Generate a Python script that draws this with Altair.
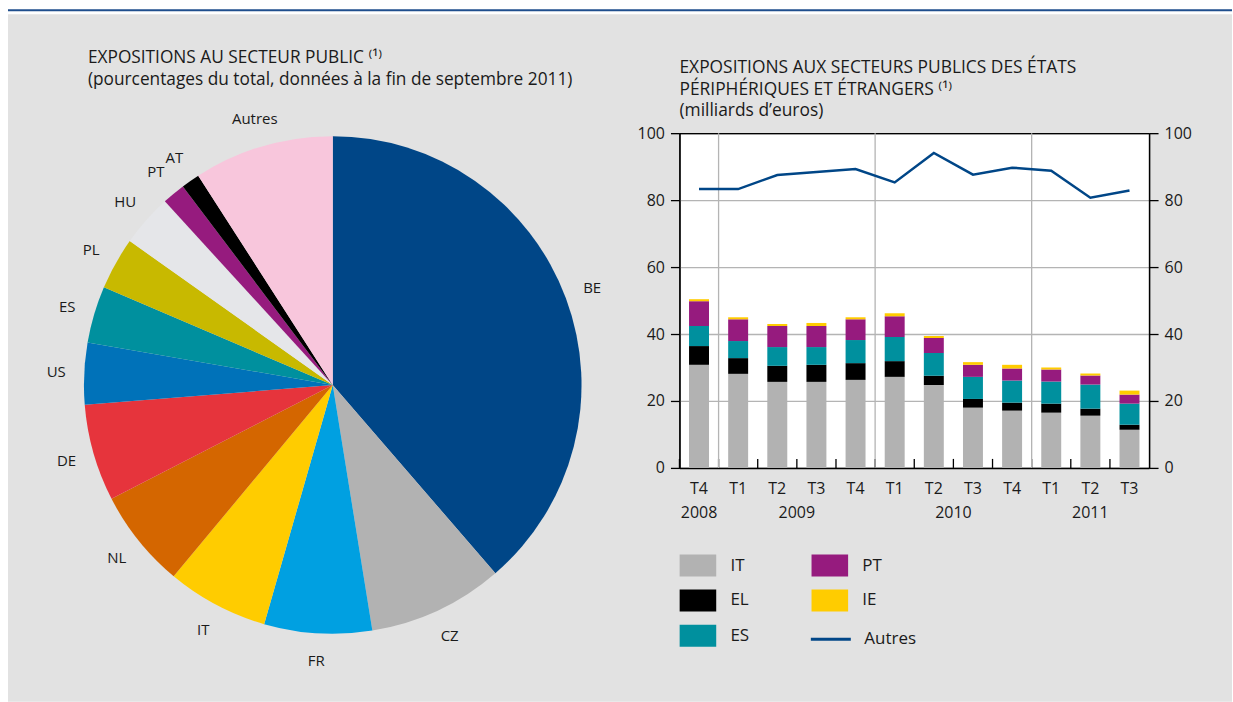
import altair as alt
import pandas as pd

# ---------------- data ----------------
pie_countries = ["BE", "CZ", "FR", "IT", "NL", "DE", "US", "ES", "PL", "HU", "PT", "AT", "Autres"]
pie_shares = [38.7, 8.8, 7.0, 6.6, 6.4, 6.3, 4.0, 3.7, 3.4, 3.4, 1.5, 1.2, 9.1]

quarters = ["T4", "T1", "T2", "T3", "T4", "T1", "T2", "T3", "T4", "T1", "T2", "T3"]
years = ["2008", "2009", "2009", "2009", "2009", "2010", "2010", "2010", "2010", "2011", "2011", "2011"]
it_vals = [30.8, 28.1, 25.7, 25.7, 26.3, 27.2, 24.8, 18.0, 17.1, 16.5, 15.6, 11.4]
el_vals = [5.6, 4.7, 4.8, 5.1, 5.0, 4.7, 2.7, 2.6, 2.4, 2.7, 2.1, 1.5]
es_vals = [6.0, 5.1, 5.6, 5.3, 6.9, 7.2, 6.8, 6.6, 6.6, 6.6, 7.2, 6.3]
pt_vals = [7.4, 6.5, 6.3, 6.3, 6.2, 6.2, 4.5, 3.6, 3.6, 3.6, 2.7, 2.7]
ie_vals = [0.6, 0.6, 0.6, 0.9, 0.6, 0.9, 0.6, 0.8, 1.1, 0.6, 0.6, 1.2]
autres_vals = [83.3, 83.3, 87.5, 88.4, 89.3, 85.3, 94.1, 87.6, 89.7, 88.8, 80.7, 82.9]

bar_series = ["IT", "EL", "ES", "PT", "IE"]
line_series = "Autres"

left_title = "EXPOSITIONS AU SECTEUR PUBLIC \u207d\u00b9\u207e\n(pourcentages du total, données à la fin de septembre 2011)"
right_title = ("EXPOSITIONS AUX SECTEURS PUBLICS DES ÉTATS\n"
               "PÉRIPHÉRIQUES ET ÉTRANGERS \u207d\u00b9\u207e\n(milliards d\u2019euros)")

# ---------------- styles ----------------
FONT = "Open Sans"
TXT = "#1a1a1a"
PANEL = "#e2e2e2"
pie_colors = ["#004687", "#b2b2b2", "#00a0e1", "#ffcc00", "#d46600", "#e6343c",
              "#0072b9", "#00909e", "#c8b900", "#e5e6e9", "#961b7e", "#000000", "#f8c6dc"]
bar_colors = {"IT": "#b2b2b2", "EL": "#000000", "ES": "#00909e", "PT": "#961b7e", "IE": "#ffcc00"}
LINE_COLOR = "#004687"

W_P, H_P = 650, 504      # pie view (page x 8..658, y 133..637)
W_R, H_R = 470, 335      # right plot area (page x 680..1150, y 133..468)
SPACING = 22
AX_FS = 16

one = pd.DataFrame({"k": [0]})

# ---------------- left panel ----------------
pie_df = pd.DataFrame({"pays": pie_countries, "part": pie_shares,
                       "ordre": list(range(len(pie_countries)))})

white_bg = alt.Chart(one).mark_rect(color="white").encode(
    x=alt.value(-8), x2=alt.value(1225), y=alt.value(-133), y2=alt.value(569))
gray_bg = alt.Chart(one).mark_rect(color=PANEL).encode(
    x=alt.value(0), x2=alt.value(1225), y=alt.value(-119), y2=alt.value(569))
blue_rule = alt.Chart(one).mark_rule(color="#1f4e8d", strokeWidth=2).encode(
    x=alt.value(0), x2=alt.value(1225), y=alt.value(-123))

base_pie = alt.Chart(pie_df).encode(
    theta=alt.Theta("part:Q", stack=True),
    order=alt.Order("ordre:Q"),
)
arcs = base_pie.mark_arc(outerRadius=249).encode(
    color=alt.Color("pays:N", scale=alt.Scale(domain=pie_countries, range=pie_colors), legend=None)
)
pie_labels = base_pie.mark_text(radius=277, fontSize=15, color=TXT, font=FONT).encode(
    text="pays:N")

left_title_mark = alt.Chart(one).mark_text(
    align="left", baseline="alphabetic", fontSize=17.3, lineHeight=22, lineBreak="\n",
    color=TXT, font=FONT
).encode(x=alt.value(80), y=alt.value(63 - 133), text=alt.value(left_title))

left_panel = alt.layer(white_bg, gray_bg, blue_rule, arcs, pie_labels, left_title_mark).properties(
    width=W_P, height=H_P)

# ---------------- right panel ----------------
periods = [f"{q} {y}" for q, y in zip(quarters, years)]
rows = []
for rank, (name, vals) in enumerate(zip(bar_series, [it_vals, el_vals, es_vals, pt_vals, ie_vals])):
    for p, v in zip(periods, vals):
        rows.append({"periode": p, "serie": name, "valeur": v, "rang": rank})
bar_df = pd.DataFrame(rows)
per_df = pd.DataFrame({"periode": periods, "trimestre": quarters, "annee": years,
                       "idx": list(range(len(periods)))})
line_df = pd.DataFrame({"periode": periods, "serie": line_series, "valeur": autres_vals})

xscale = alt.Scale(domain=periods, paddingInner=0, paddingOuter=0)
xaxis = alt.Axis(title=None, labelExpr="split(datum.value, ' ')[0]", ticks=False,
                 domainColor="black", domainWidth=1.5, labelFontSize=AX_FS, labelColor=TXT,
                 labelPadding=13, labelAngle=0, labelFont=FONT)
yvals = [0, 20, 40, 60, 80, 100]

bars = alt.Chart(bar_df).mark_bar(width=alt.RelativeBandSize(0.51)).encode(
    x=alt.X("periode:N", scale=xscale, sort=periods, axis=xaxis),
    y=alt.Y("valeur:Q", stack="zero", scale=alt.Scale(domain=[0, 100], nice=False),
            axis=alt.Axis(orient="left", values=yvals, title=None, grid=True,
                          gridColor=alt.condition("datum.value == 100", alt.value("black"), alt.value("#b4b4b4")),
                          gridWidth=1.3, tickColor="black", tickSize=9, tickWidth=1.3,
                          domainColor="black", domainWidth=1.5, labelPadding=6,
                          labelFontSize=AX_FS, labelColor=TXT, labelFont=FONT)),
    color=alt.Color("serie:N",
                    scale=alt.Scale(domain=bar_series, range=[bar_colors[s] for s in bar_series]),
                    legend=alt.Legend(orient="none", legendX=0, legendY=414, columns=2, title=None,
                                      symbolType="M-1,-0.6H1V0.6H-1Z", symbolSize=1340,
                                      symbolStrokeWidth=0, labelFontSize=17, labelColor=TXT,
                                      labelFont=FONT, labelOffset=14, columnPadding=62,
                                      rowPadding=5.2)),
    order=alt.Order("rang:Q"),
)

ticks = alt.Chart(per_df).mark_rule(color="black", strokeWidth=1.3).encode(
    x=alt.X("periode:N", scale=xscale, sort=periods, axis=xaxis, bandPosition=0),
    y=alt.value(H_R - 9), y2=alt.value(H_R))

vgrid = alt.Chart(per_df).transform_filter("datum.trimestre == 'T1'").mark_rule(
    color="#b4b4b4", strokeWidth=1.3).encode(
    x=alt.X("periode:N", scale=xscale, sort=periods, axis=xaxis, bandPosition=0),
    y=alt.value(0), y2=alt.value(H_R))

line = alt.Chart(line_df).mark_line(strokeWidth=2.5).encode(
    x=alt.X("periode:N", scale=xscale, sort=periods, axis=xaxis, bandPosition=0.5),
    y=alt.Y("valeur:Q", scale=alt.Scale(domain=[0, 100], nice=False),
            axis=alt.Axis(orient="right", values=yvals, title=None, grid=False,
                          tickColor="black", tickSize=9, tickWidth=1.3,
                          domainColor="black", domainWidth=1.5, labelPadding=6,
                          labelFontSize=AX_FS, labelColor=TXT, labelFont=FONT)),
    stroke=alt.Stroke("serie:N", scale=alt.Scale(domain=[line_series], range=[LINE_COLOR]),
                      legend=alt.Legend(orient="none", legendX=130, legendY=485, title=None,
                                        symbolType="stroke", symbolSize=1600, symbolStrokeWidth=3,
                                        labelFontSize=17, labelColor=TXT, labelFont=FONT,
                                        labelOffset=12)),
)

inner = alt.layer(ticks, vgrid, bars, line).resolve_scale(y="independent")

year_labels = alt.Chart(per_df).transform_aggregate(
    c="mean(idx)", groupby=["annee"]
).transform_calculate(centre="datum.c + 0.5").mark_text(
    fontSize=AX_FS, color=TXT, font=FONT, baseline="middle"
).encode(
    x=alt.X("centre:Q", scale=alt.Scale(domain=[0, len(periods)], nice=False, zero=False), axis=None),
    y=alt.value(H_R + 45),
    text="annee:N",
)

right_title_mark = alt.Chart(one).mark_text(
    align="left", baseline="alphabetic", fontSize=17.4, lineHeight=21.5, lineBreak="\n",
    color=TXT, font=FONT
).encode(x=alt.value(0), y=alt.value(73 - 133), text=alt.value(right_title))

right_panel = alt.layer(inner, year_labels, right_title_mark).resolve_scale(
    x="independent"
).properties(width=W_R, height=H_R,
             view=alt.ViewBackground(fill="white", stroke="black", strokeWidth=1))

chart = alt.hconcat(left_panel, right_panel, spacing=SPACING, bounds="flush").resolve_scale(
    color="independent", stroke="independent"
).resolve_legend(
    color="independent", stroke="independent"
).properties(
    padding=0, background="white",
    autosize=alt.AutoSizeParams(type="pad")
).configure(font=FONT).configure_view(strokeWidth=0)

chart.save("out.html", embed_options={"renderer": "svg", "actions": False})
